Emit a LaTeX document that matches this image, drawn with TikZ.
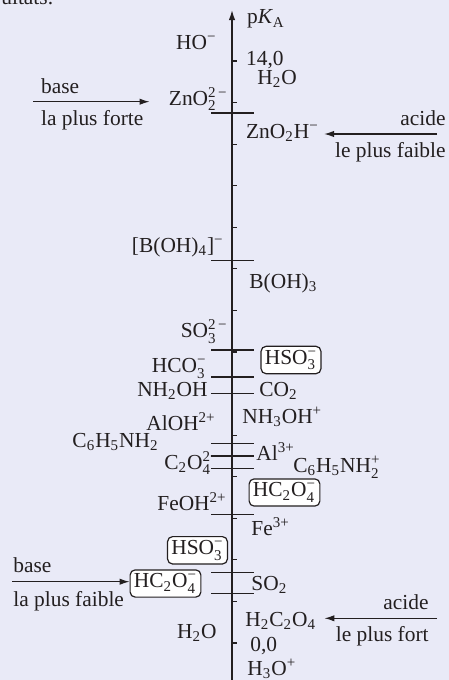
\documentclass[tikz,border=0pt]{standalone}
\usepackage{amsmath}
\usepackage{fontspec}
\setmainfont{Liberation Serif}
\usepackage{tikz}
\usetikzlibrary{arrows.meta, calc}
\definecolor{paper}{HTML}{E9EAF7}
\definecolor{ink}{HTML}{231F20}
% indices et exposants en police de texte
\newcommand{\chsub}[1]{$_{\text{#1}}$}
\newcommand{\chsup}[1]{$^{\text{#1}}$}
\newcommand{\chsubsup}[2]{$_{\text{#1}}^{\text{#2}}$}
\tikzset{
  chemtext/.style={font=\fontsize{10.7}{13}\selectfont, text=ink, inner sep=0pt},
  left species/.style={chemtext, anchor=base east},
  right species/.style={chemtext, anchor=base west},
  boxed/.style={chemtext, draw=ink, fill=white, rounded corners=2.5pt, line width=0.6pt, inner sep=1.9pt},
  axisline/.style={draw=ink, line width=0.65pt, -{Latex[length=5pt,width=3.2pt]}},
  pkaline/.style={draw=ink, line width=0.6pt},
  tickmark/.style={draw=ink, line width=0.6pt},
  hintarrow/.style={draw=ink, line width=0.6pt, -{Latex[length=5pt,width=3.2pt]}}
}

\begin{document}
\begin{tikzpicture}[x=0.5pt, y=-0.5pt]
    \fill[paper] (0,0) rectangle (449,680);
    \useasboundingbox (0,0) rectangle (449,680);
    \clip (0,0) rectangle (449,680);
    \node[right species] (prevtext) at (1,4) {ultats.};

    % axe des pKa
    \coordinate (axbot) at (232,684);
    \coordinate (axtop) at (232,10);
    \draw[axisline] (axbot) -- (axtop);
    \node[right species] (pka) at (246.7,24) {p\textit{K}\chsub{A}};
    \foreach \k in {0,...,14}
      \draw[tickmark] (232,{643-41.57*\k}) -- ++(5,0);
    \foreach \v in {12.75,9.2,7.05,6.4,6.0,4.8,4.5,4.2,3.1,1.7,1.2}
      \draw[pkaline] (211,{643-41.57*\v}) -- (254,{643-41.57*\v});
    \node[right species] (top) at (245.7,65.7) {14,0};
    \node[right species] (bottom) at (250,651.7) {0,0};

    % bases (gauche)
    \node[left species] (ho) at (217,49) {HO\chsup{−}};
    \node[left species] (zno) at (228,105) {ZnO\chsubsup{2}{2\,−}};
    \node[left species] (borate) at (224,252.7) {[B(OH)\chsub{4}]\chsup{−}};
    \node[left species] (sulfite) at (228,337.7) {SO\chsubsup{3}{2\,−}};
    \node[left species] (hco) at (207,372.7) {HCO\chsubsup{3}{−}};
    \node[left species] (nhoh) at (208,396.7) {NH\chsub{2}OH};
    \node[left species] (aloh) at (216,430.7) {AlOH\chsup{2+}};
    \node[left species] (aniline) at (159,447) {C\chsub{6}H\chsub{5}NH\chsub{2}};
    \node[left species] (oxalate) at (220,469) {C\chsub{2}O\chsubsup{4}{2−}};
    \node[left species] (feoh) at (227,510) {FeOH\chsup{2+}};
    \node[boxed] (hsoL) at (197.5,550.3) {HSO\chsubsup{3}{−}};
    \node[boxed] (hcoxL) at (165.5,583.5) {HC\chsub{2}O\chsubsup{4}{−}};
    \node[left species] (waterL) at (217,638.3) {H\chsub{2}O};

    % acides (droite)
    \node[right species] (waterR) at (257,84) {H\chsub{2}O};
    \node[right species] (znoh) at (245.7,138) {ZnO\chsub{2}H\chsup{−}};
    \node[right species] (boric) at (249,288) {B(OH)\chsub{3}};
    \node[boxed] (hsoR) at (291,360) {HSO\chsubsup{3}{−}};
    \node[right species] (co) at (259,396.7) {CO\chsub{2}};
    \node[right species] (nhhoh) at (242,423) {NH\chsub{3}OH\chsup{+}};
    \node[right species] (al) at (256,460.7) {Al\chsup{3+}};
    \node[right species] (anilinium) at (293,472.7) {C\chsub{6}H\chsub{5}NH\chsubsup{2}{+}};
    \node[boxed] (hcoxR) at (284.5,492.5) {HC\chsub{2}O\chsubsup{4}{−}};
    \node[right species] (fe) at (251,535) {Fe\chsup{3+}};
    \node[right species] (so) at (251,590) {SO\chsub{2}};
    \node[right species] (oxalic) at (245,626.7) {H\chsub{2}C\chsub{2}O\chsub{4}};
    \node[right species] (hydronium) at (247,675) {H\chsub{3}O\chsup{+}};

    % fleches
    \coordinate (strongbase) at (33,101.7);
    \draw[hintarrow, shorten >=9.5pt] (strongbase) -- (strongbase -| zno.west);
    \node[right species] (sbtop) at (40.7,93) {base};
    \node[right species] (sbbot) at (40.7,125) {la plus forte};

    \coordinate (weakacid) at (437,134);
    \draw[hintarrow, shorten >=2.5pt] (weakacid) -- (weakacid -| znoh.east);
    \node[left species] (watop) at (446,125) {acide};
    \node[left species] (wabot) at (446,157) {le plus faible};

    \coordinate (weakbase) at (12,581.7);
    \draw[hintarrow] (weakbase) -- (weakbase -| hcoxL.west);
    \node[right species] (wbtop) at (13,572.7) {base};
    \node[right species] (wbbot) at (13,606) {la plus faible};

    \coordinate (strongacid) at (437,618.3);
    \draw[hintarrow, shorten >=4pt] (strongacid) -- (strongacid -| oxalic.east);
    \node[left species] (satop) at (429,609) {acide};
    \node[left species] (sabot) at (429,641.7) {le plus fort};
  \end{tikzpicture}
\end{document}
